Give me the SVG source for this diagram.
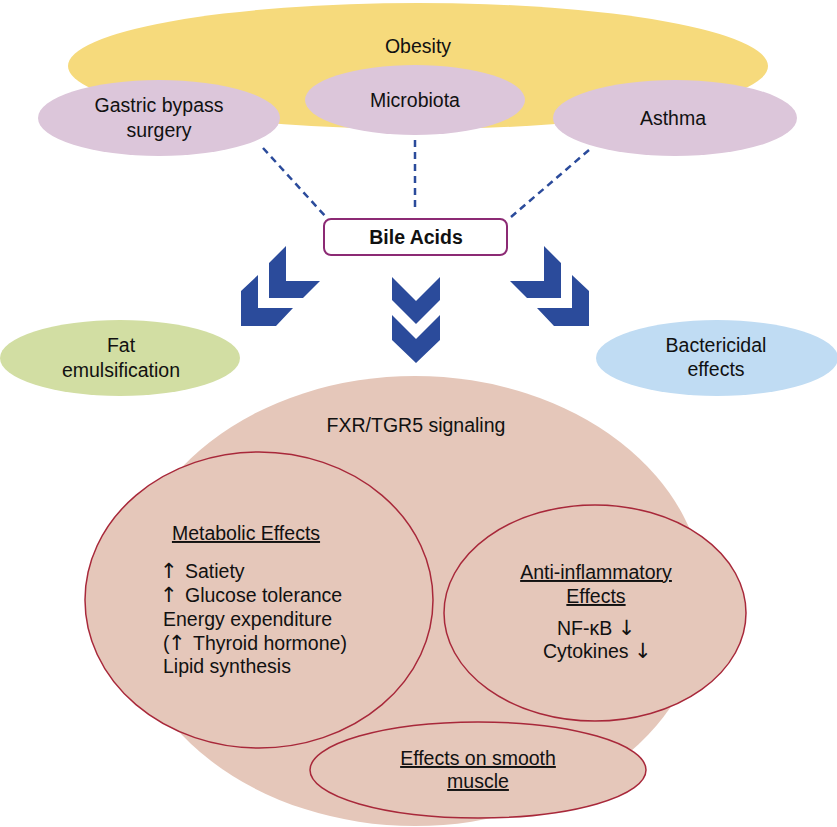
<svg xmlns="http://www.w3.org/2000/svg" width="837" height="827" viewBox="0 0 837 827">
<style>
text{font-family:"Liberation Sans",Arial,Helvetica,sans-serif;font-size:19.5px;fill:#111;}
.c{text-anchor:middle;}
.u{text-decoration:underline;}
.ar{font-family:"DejaVu Sans",sans-serif;font-size:21px;fill:#111;}
.ring{fill:#e5c7ba;stroke:#a8283a;stroke-width:1.5;}
.dash{stroke:#2b4b9b;stroke-width:2.5;stroke-dasharray:7 5;fill:none;}
.chev{fill:#2b4b9b;}
</style>
<rect width="837" height="827" fill="#fff"/>
<g id="obesity">
<ellipse cx="418" cy="66" rx="350" ry="63" fill="#f6da7c"/>
<text class="c" x="418" y="53">Obesity</text>
</g>
<g id="gastric">
<ellipse cx="159" cy="118" rx="121" ry="38" fill="#dcc6da"/>
<text class="c" x="159" y="112">Gastric bypass</text>
<text class="c" x="159" y="137">surgery</text>
</g>
<g id="microbiota">
<ellipse cx="415" cy="100" rx="110" ry="35" fill="#dcc6da"/>
<text class="c" x="415" y="107">Microbiota</text>
</g>
<g id="asthma">
<ellipse cx="675" cy="118" rx="122" ry="38" fill="#dcc6da"/>
<text class="c" x="673" y="125">Asthma</text>
</g>
<g id="connectors">
<line class="dash" x1="263" y1="148" x2="326" y2="217"/>
<line class="dash" x1="415" y1="140" x2="415" y2="210"/>
<line class="dash" x1="589" y1="150" x2="511" y2="217"/>
<polygon class="chev" points="392,277 416,301 440,277 440,300 416,324 392,300"/>
<polygon class="chev" points="392,315 416,339 440,315 440,340 416,363 392,340"/>
<polygon class="chev" points="269,263 286,246 286,281 320,281 303,298 269,298"/>
<polygon class="chev" points="241,291 258,275 258,308 293,308 276,326 241,326"/>
<polygon class="chev" points="561,263 544,246 544,281 510,281 527,298 561,298"/>
<polygon class="chev" points="589,291 572,275 572,308 537,308 554,326 589,326"/>
</g>
<g id="bile-acids">
<rect x="324" y="219" width="183" height="36" rx="7" fill="#fff" stroke="#8c2a74" stroke-width="2"/>
<text class="c" x="416" y="244" style="font-weight:bold">Bile Acids</text>
</g>
<g id="fat">
<ellipse cx="120" cy="358" rx="120" ry="38" fill="#d2dea3"/>
<text class="c" x="121" y="352">Fat</text>
<text class="c" x="121" y="377">emulsification</text>
</g>
<g id="bactericidal">
<ellipse cx="717" cy="358" rx="121" ry="38" fill="#c0dcf3"/>
<text class="c" x="716" y="352">Bactericidal</text>
<text class="c" x="716" y="376">effects</text>
</g>
<g id="fxr">
<ellipse cx="415" cy="601" rx="290" ry="225" fill="#e5c7ba"/>
<text class="c" x="416" y="432">FXR/TGR5 signaling</text>
</g>
<g id="metabolic">
<ellipse class="ring" cx="259" cy="600" rx="174" ry="148"/>
<text class="c u" x="246" y="540">Metabolic Effects</text>
<text x="160" y="578"><tspan class="ar">↑</tspan><tspan x="185">Satiety</tspan></text>
<text x="160" y="602"><tspan class="ar">↑</tspan><tspan x="185">Glucose tolerance</tspan></text>
<text x="163" y="626">Energy expenditure</text>
<text x="163" y="650">(<tspan class="ar" x="168">↑</tspan><tspan x="193">Thyroid hormone)</tspan></text>
<text x="163" y="673">Lipid synthesis</text>
</g>
<g id="anti-inflammatory">
<ellipse class="ring" cx="595" cy="613" rx="151" ry="108"/>
<text class="c u" x="596" y="579">Anti-inflammatory</text>
<text class="c u" x="596" y="603">Effects</text>
<text x="557" y="635">NF-κB <tspan class="ar">↓</tspan></text>
<text x="543" y="658">Cytokines <tspan class="ar">↓</tspan></text>
</g>
<g id="smooth-muscle">
<ellipse class="ring" cx="478" cy="770" rx="168" ry="48"/>
<text class="c u" x="478" y="765">Effects on smooth</text>
<text class="c u" x="478" y="788">muscle</text>
</g>
</svg>
